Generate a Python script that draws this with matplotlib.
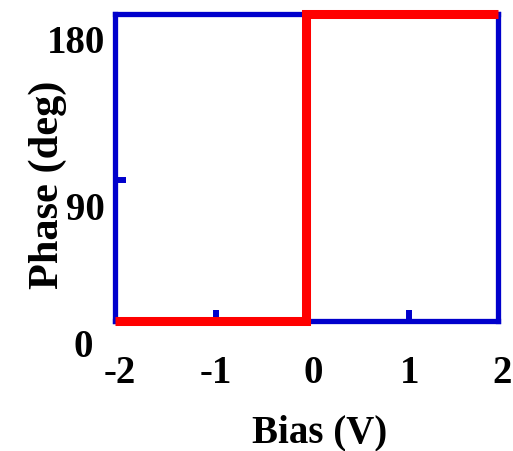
import matplotlib.pyplot as plt

# phase step vs bias
bias = [-2.05, -0.07, -0.07, 1.92]
phase = [14, 14, 180, 180]

x_ticks = [-1, 1]
y_ticks = [90]
x_label_vals = [-2, -1, 0, 1, 2]
x_labels = ['-2', '-1', '0', '1', '2']
y_label_vals = [0, 90, 180]
y_labels = ['0', '90', '180']

plt.rcParams['font.family'] = 'Liberation Serif'
plt.rcParams['font.weight'] = 'bold'

W, H = 513, 452
blue = '#0000cc'

fig = plt.figure(figsize=(W / 100, H / 100), dpi=100)
ax = fig.add_axes([115 / W, 1 - 322 / H, (498 - 115) / W, (322 - 14.5) / H])

ax.plot(bias, phase, color='red', lw=6.5, solid_capstyle='butt',
        solid_joinstyle='miter', clip_on=False, zorder=3)
ax.set_xlim(-2.05, 1.92)
ax.set_ylim(14, 180)

for s in ax.spines.values():
    s.set_color(blue)
    s.set_linewidth(3.8)

ax.set_xticks(x_ticks)
ax.set_yticks(y_ticks)
ax.tick_params(direction='in', color=blue, width=4.3, length=8,
               labelbottom=False, labelleft=False)

# tick labels drawn by hand, as in the original figure
for v, lab in zip(x_label_vals, x_labels):
    dx = -4 if v == x_label_vals[-1] else 0
    ax.annotate(lab, xy=(v, 14), xycoords='data', xytext=(dx, -61),
                textcoords='offset pixels', ha='center', va='baseline',
                fontsize=28, annotation_clip=False)

for v, lab in zip(y_label_vals, y_labels):
    if v == 0:
        ax.annotate(lab, xy=(-2.05, v), xytext=(-32, 0), textcoords='offset pixels',
                    ha='center', va='center', fontsize=28, annotation_clip=False)
    else:
        ax.annotate(lab, xy=(-2.05, v), xytext=(-10, -11), textcoords='offset pixels',
                    ha='right', va='top', fontsize=28, annotation_clip=False)

fig.text(320 / W, 1 - 442 / H, 'Bias (V)', ha='center', va='baseline', fontsize=28)
fig.text(58 / W, 1 - 185 / H, 'Phase (deg)', ha='center', va='baseline',
         rotation=90, rotation_mode='anchor', fontsize=30.5)

fig.savefig('out.png', dpi=100)
